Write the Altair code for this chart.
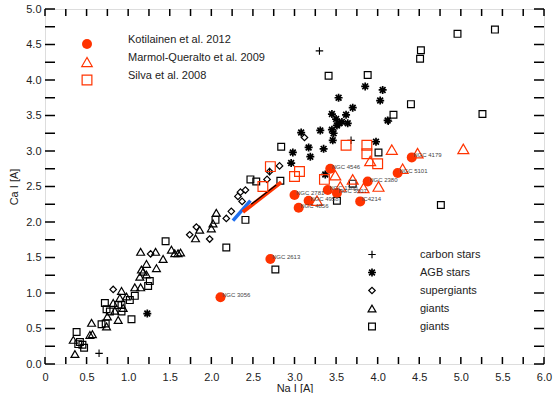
import altair as alt
import pandas as pd

# ---------------- data: Na I and Ca I equivalent widths ----------------
# Kotilainen et al. 2012 (galaxies, filled circles with names)
kot_na = [4.41, 4.24, 3.88, 3.43, 3.00, 3.17, 3.05, 3.40, 3.51, 3.79, 2.71, 2.11]
kot_ca = [2.91, 2.69, 2.57, 2.75, 2.38, 2.30, 2.20, 2.45, 2.41, 2.29, 1.48, 0.94]
kot_name = ["NGC 4179", "NGC 5101", "NGC 2380", "NGC 4546", "NGC 2781", "NGC 4958",
            "NGC 4856", "NGC 1380", "NGC 5507", "IC4214", "NGC 2613", "NGC 3056"]

# Marmol-Queralto et al. 2009 (open triangles)
mq_na = [5.03, 4.17, 4.48, 3.91, 4.30, 3.49, 3.70, 3.83, 4.01, 3.55, 3.27]
mq_ca = [3.03, 3.02, 2.97, 2.86, 2.75, 2.66, 2.60, 2.48, 2.50, 2.50, 2.30]

# Silva et al. 2008 (open squares)
sil_na = [3.62, 3.87, 3.87, 4.00, 3.36, 3.06, 3.00, 2.71, 2.62]
sil_ca = [3.08, 3.08, 2.96, 2.82, 2.60, 2.71, 2.64, 2.78, 2.50]

# stellar library
carbon_na = [3.30, 3.68, 4.13, 0.65, 2.70]
carbon_ca = [4.41, 3.15, 3.42, 0.15, 2.71]

agb_na = [3.85, 4.06, 4.03, 3.53, 3.70, 3.45, 3.62, 3.50, 3.54, 3.57, 3.64, 3.51, 3.45,
          3.31, 3.08, 3.47, 3.46, 3.17, 3.35, 2.98, 3.19, 2.96, 3.98, 4.12, 3.37, 1.23]
agb_ca = [3.91, 3.86, 3.71, 3.75, 3.61, 3.52, 3.51, 3.45, 3.39, 3.41, 3.39, 3.36, 3.30,
          3.29, 3.26, 3.25, 3.15, 3.05, 3.03, 2.98, 2.92, 2.83, 3.13, 3.43, 2.67, 0.71]

sg_na = [3.12, 2.82, 2.70, 2.67, 2.41, 2.35, 2.32, 2.37, 2.24, 2.18, 1.98, 1.82, 1.74,
         1.27, 0.82]
sg_ca = [3.19, 2.79, 2.71, 2.60, 2.45, 2.42, 2.36, 2.29, 2.15, 2.05, 1.76, 1.93, 1.82,
         1.55, 1.05]

gtri_na = [2.06, 2.02, 2.00, 1.86, 1.81, 1.42, 1.34, 1.15, 1.33, 1.52, 1.56, 1.60, 1.63,
           1.16, 1.18, 1.14, 1.22, 1.22, 1.08, 1.15, 0.92, 0.98, 0.90, 0.82, 0.94, 0.84,
           0.75, 0.88, 0.56, 0.74, 0.54, 0.57, 0.34, 0.36]
gtri_ca = [2.13, 1.98, 1.91, 1.89, 1.77, 1.48, 1.35, 1.58, 1.58, 1.61, 1.56, 1.56, 1.57,
           1.33, 1.30, 1.23, 1.26, 1.41, 1.08, 1.08, 1.03, 0.95, 0.93, 0.86, 0.79, 0.75,
           0.67, 0.62, 0.58, 0.53, 0.41, 0.42, 0.34, 0.14]

gsq_na = [4.96, 5.41, 4.52, 4.51, 3.41, 3.88, 4.40, 5.26, 4.19, 2.84, 4.01, 4.76, 3.70,
          3.51, 2.83, 2.47, 2.54, 2.41, 2.05, 2.18, 2.77, 1.45, 1.26, 1.24, 1.08, 1.02,
          1.04, 0.72, 0.88, 0.92, 0.74, 0.78, 0.92, 0.68, 0.73, 0.38, 0.42, 0.45, 0.47,
          0.40]
gsq_ca = [4.65, 4.71, 4.42, 4.30, 4.06, 4.07, 3.66, 3.52, 3.51, 3.06, 2.98, 2.24, 2.54,
          2.30, 2.58, 2.60, 2.57, 2.03, 2.03, 1.64, 1.33, 1.73, 1.17, 1.10, 0.96, 0.90,
          0.63, 0.86, 0.83, 0.83, 0.77, 0.74, 0.74, 0.56, 0.57, 0.45, 0.31, 0.27, 0.23,
          0.28]

# model tracks
blue_na = [2.26, 2.47]
blue_ca = [2.02, 2.30]
red_na = [2.38, 2.84]
red_ca = [2.14, 2.56]
black_na = [2.48, 2.78]
black_ca = [2.25, 2.52]

# axes
x_ticks = [i * 0.25 for i in range(25)]
y_ticks = [i * 0.25 for i in range(21)]
x_labels = [i * 0.5 for i in range(13)]
y_labels = [i * 0.5 for i in range(11)]

top_legend = ["Kotilainen et al. 2012", "Marmol-Queralto et al. 2009", "Silva et al. 2008"]
star_legend = ["carbon stars", "AGB stars", "supergiants", "giants", "giants"]

# ---------------- layout / style ----------------
W, H = 499, 355
RED = "#ff3300"
FONT = "Liberation Sans"
PLUS = "M-1,0L1,0M0,-1L0,1"
STAR = "M-1,0L1,0M0,-1L0,1M-0.72,-0.72L0.72,0.72M-0.72,0.72L0.72,-0.72"

xs = alt.Scale(domain=[0, 6], nice=False, zero=False)
ys = alt.Scale(domain=[0, 5], nice=False, zero=False)

x_axis = alt.Axis(values=x_labels, ticks=False, tickSize=0, domain=False, grid=False,
                  labelExpr="datum.value == 0 ? '0' : format(datum.value, '.1f')",
                  labelPadding=7, labelFontSize=11, labelColor="#222", labelFont=FONT,
                  labelOverlap=False, labelFlush=False, labelBound=False,
                  title="Na I [A]", titleFont=FONT, titleFontSize=11,
                  titleFontWeight="normal", titleColor="#222", titlePadding=0)
y_axis = alt.Axis(values=y_labels, ticks=False, tickSize=0, domain=False, grid=False,
                  format=".1f", labelPadding=4, labelFontSize=11, labelColor="#222",
                  labelFont=FONT, labelOverlap=False, labelFlush=False, labelBound=False,
                  title="Ca I [A]", titleFont=FONT, titleFontSize=11,
                  titleFontWeight="normal", titleColor="#222", titlePadding=6)

X = alt.X("na:Q", scale=xs, axis=x_axis)
Y = alt.Y("ca:Q", scale=ys, axis=y_axis)


def pts(na, ca, **cols):
    d = {"na": na, "ca": ca}
    d.update(cols)
    return pd.DataFrame(d)


def base(df):
    return alt.Chart(df).encode(x=X, y=Y)


def sym(df, shape, size, color="black", filled=False, sw=1.1):
    if filled:
        return base(df).mark_point(shape=shape, size=size, filled=True, color=color,
                                   opacity=1, strokeWidth=0)
    return base(df).mark_point(shape=shape, size=size, filled=False, color=color,
                               opacity=1, strokeWidth=sw)


def track(na, ca, color, width):
    return base(pts(na, ca)).mark_line(color=color, strokeWidth=width, strokeCap="butt")


layers = [
    sym(pts(gsq_na, gsq_ca), "square", 46, sw=1.2),
    sym(pts(gtri_na, gtri_ca), "triangle-up", 62, sw=1.2),
    sym(pts(sg_na, sg_ca), "diamond", 42, sw=1.2),
    sym(pts(agb_na, agb_ca), STAR, 64, sw=1.7),
    sym(pts(carbon_na, carbon_ca), PLUS, 56, sw=1.1),
    track(blue_na, blue_ca, "#1f6fef", 3.5),
    track(red_na, red_ca, RED, 3.8),
    track(black_na, black_ca, "black", 1.2),
    sym(pts(sil_na, sil_ca), "square", 95, color=RED, sw=1.2),
    sym(pts(mq_na, mq_ca), "triangle-up", 120, color=RED, sw=1.2),
    sym(pts(kot_na, kot_ca), "circle", 100, color=RED, filled=True),
    base(pts(kot_na, kot_ca, name=kot_name)).mark_text(
        align="left", baseline="middle", dx=1.5, dy=-2, fontSize=6, font=FONT,
        color="#444").encode(text="name:N"),
]

# tick marks pointing into the frame on all four sides (share the same axes)
xt = pd.DataFrame({"na": x_ticks})
yt = pd.DataFrame({"ca": y_ticks})
XL, YL = 7, 10
tick_style = dict(color="black", strokeWidth=1.5)
layers += [
    alt.Chart(xt).mark_rule(**tick_style).encode(x=X, y=alt.value(H), y2=alt.value(H - XL)),
    alt.Chart(xt).mark_rule(**tick_style).encode(x=X, y=alt.value(0), y2=alt.value(XL)),
    alt.Chart(yt).mark_rule(**tick_style).encode(y=Y, x=alt.value(0), x2=alt.value(YL)),
    alt.Chart(yt).mark_rule(**tick_style).encode(y=Y, x=alt.value(W), x2=alt.value(W - YL)),
]

# in-plot legends (pixel layout)
tl = pd.DataFrame({"label": top_legend,
                   "py": [35 + 18 * i for i in range(3)],
                   "ty": [31 + 18 * i for i in range(3)]})
tl_shape = ["circle", "triangle-up", "square"]
for i, shp in enumerate(tl_shape):
    row = tl.iloc[[i]]
    if shp == "circle":
        layers.append(alt.Chart(row).mark_point(shape=shp, size=100, filled=True,
                                                color=RED, opacity=1, strokeWidth=0)
                      .encode(x=alt.value(42), y=alt.Y("py:Q", scale=None)))
    else:
        layers.append(alt.Chart(row).mark_point(shape=shp, size=110 if shp != "square" else 95,
                                                filled=False, color=RED, opacity=1,
                                                strokeWidth=1.2)
                      .encode(x=alt.value(42), y=alt.Y("py:Q", scale=None)))
layers.append(alt.Chart(tl).mark_text(align="left", baseline="middle", fontSize=11,
                                      font=FONT, color="#222")
              .encode(x=alt.value(83), y=alt.Y("ty:Q", scale=None), text="label:N"))

sl = pd.DataFrame({"label": star_legend,
                   "py": [245.5 + 18 * i for i in range(5)]})
sl_shape = [PLUS, STAR, "diamond", "triangle-up", "square"]
sl_size = [56, 64, 42, 62, 46]
for i, shp in enumerate(sl_shape):
    row = sl.iloc[[i]]
    layers.append(alt.Chart(row).mark_point(shape=shp, size=sl_size[i], filled=False,
                                            color="black", opacity=1,
                                            strokeWidth=1.7 if shp == STAR else 1.2)
                  .encode(x=alt.value(327), y=alt.Y("py:Q", scale=None)))
layers.append(alt.Chart(sl).mark_text(align="left", baseline="middle", fontSize=11,
                                      font=FONT, color="#222")
              .encode(x=alt.value(375), y=alt.Y("py:Q", scale=None), text="label:N"))

chart = alt.layer(*layers).properties(
    width=W, height=H,
    autosize=alt.AutoSizeParams(type="none"),
    padding={"left": 45, "top": 9, "right": 10, "bottom": 29},
).configure_view(stroke="black", strokeWidth=2).configure(background="white")

chart.save("out.html", embed_options={"renderer": "svg", "actions": False})
